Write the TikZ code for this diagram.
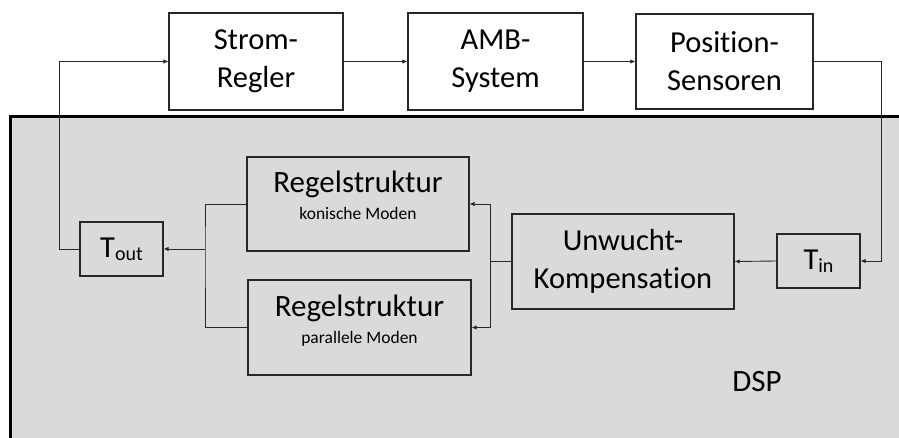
\documentclass[tikz,border=0pt]{standalone}
\usepackage{fontspec}
\setmainfont{Carlito}[Ligatures=NoCommon]
\usepackage{tikz}
\usetikzlibrary{arrows.meta, positioning, calc}
\definecolor{dspgray}{RGB}{218, 218, 218}
\definecolor{linegray}{RGB}{40, 40, 40}
\newcommand{\lowsub}[1]{\raisebox{-3pt}{\fontsize{20}{20}\selectfont #1}}

\begin{document}
\begin{tikzpicture}[
    x=1pt, y=-1pt,
    block/.style={rectangle, draw=linegray, line width=1.2pt, fill=#1,
                  align=center, inner sep=0pt,
                  font=\fontsize{30.5}{38}\selectfont},
    block/.default=white,
    ctrl/.style={block=dspgray, text depth=17pt,
                 font=\fontsize{31}{27}\selectfont},
    wire/.style={draw=linegray, line width=0.9pt},
    arrow/.style={wire, -{Latex[length=5pt, width=4.5pt]}}
]
\useasboundingbox (0,0) rectangle (899,438);

% DSP area
\draw[line width=3pt, fill=dspgray] (10,117) rectangle (930,470);
\node[font=\fontsize{31}{36}\selectfont] (dsp) at (757,382) {DSP};

% Outer loop
\node[block, minimum width=174pt, minimum height=97pt] (strom) at (256,61.5) {Strom-\\Regler};
\node[block, minimum width=175pt, minimum height=97pt] (amb) at (495.5,61.5) {AMB-\\System};
\node[block, minimum width=177pt, minimum height=95pt] (pos) at (724.5,61.5) {Position-\\Sensoren};

% Inside the DSP
\node[block=dspgray, minimum width=83pt, minimum height=54pt] (tout) at (121.5,249) {T\lowsub{out}};
\node[block=dspgray, minimum width=83pt, minimum height=54pt] (tin) at (818.5,261) {T\lowsub{in}};
\node[block=dspgray, minimum width=222pt, minimum height=95pt] (unw) at (623,261.5) {Unwucht-\\Kompensation};
\node[ctrl, minimum width=222pt, minimum height=94pt] (regk) at (358,204)
    {Regelstruktur\\{\fontsize{17.5}{20}\selectfont konische Moden}};
\node[ctrl, minimum width=223pt, minimum height=95pt] (regp) at (359.5,327.5)
    {Regelstruktur\\{\fontsize{17.5}{20}\selectfont parallele Moden}};

% Connectors
\draw[arrow] (strom.east) -- (amb.west);
\draw[arrow] (amb.east) -- (pos.west);
\draw[arrow] (pos.east) -- ++(68,0) |- (tin.east);
\draw[arrow] (tin.west) -- (unw.east);
\coordinate (split) at ($(unw.west)+(-21,0)$);
\draw[wire] (unw.west) -- (split);
\draw[arrow] (split) |- (regk.east);
\draw[arrow] (split) |- (regp.east);
\coordinate (join) at (205,249);
\draw[wire] (regk.west) -| (join) |- (regp.west);
\draw[arrow] (join) -- (tout.east);
\draw[arrow] (tout.west) -- ++(-20,0) |- (strom.west);

\end{tikzpicture}
\end{document}
